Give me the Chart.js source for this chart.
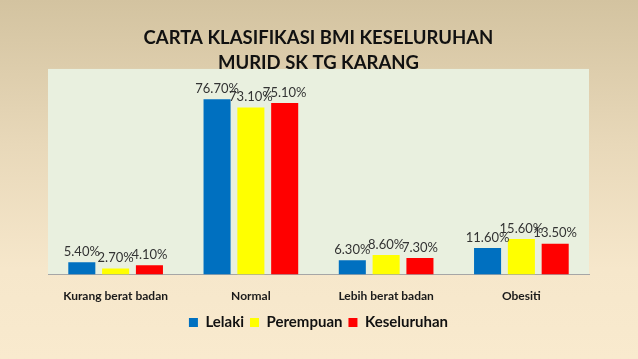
<!DOCTYPE html>
<html>
<head>
<meta charset="utf-8">
<script src="https://cdn.jsdelivr.net/npm/chart.js@4.4.0/dist/chart.umd.min.js"></script>
<style>
    html, body { margin: 0; padding: 0; }
    body {
        width: 638px; height: 359px; overflow: hidden;
        background: linear-gradient(to bottom, #d3c3a0 0%, #e8d8b9 40%, #f6e7cb 75%, #f9eace 100%);
    }
    #wrap { position: relative; width: 638px; height: 359px; }
</style>
</head>
<body>
<div id="wrap"><canvas id="bmiChart"></canvas></div>

<script>
var kategori = ["Kurang berat badan", "Normal", "Lebih berat badan", "Obesiti"];
var lelaki = [5.4, 76.7, 6.3, 11.6];
var perempuan = [2.7, 73.1, 8.6, 15.6];
var keseluruhan = [4.1, 75.1, 7.3, 13.5];

var fontUtama = "Lato, 'Open Sans', sans-serif";

// latar kawasan plot
var latarPlot = {
    id: 'latarPlot',
    beforeDraw: function(chart) {
        var a = chart.chartArea, ctx = chart.ctx;
        ctx.save();
        ctx.fillStyle = '#e9f0df';
        ctx.fillRect(a.left, a.top, a.right - a.left, a.bottom - a.top);
        ctx.restore();
    }
};

// label nilai atas bar
var labelNilai = {
    id: 'labelNilai',
    afterDatasetsDraw: function(chart) {
        var ctx = chart.ctx;
        ctx.save();
        ctx.font = "13px " + fontUtama;
        ctx.fillStyle = '#333333';
        ctx.textAlign = 'center';
        ctx.textBaseline = 'bottom';
        chart.data.datasets.forEach(function(ds, i) {
            chart.getDatasetMeta(i).data.forEach(function(bar, j) {
                ctx.fillText(ds.data[j].toFixed(2) + '%', bar.x, bar.y - 4);
            });
        });
        ctx.restore();
    }
};

new Chart(document.getElementById('bmiChart').getContext('2d'), {
    type: 'bar',
    data: {
        labels: kategori,
        datasets: [
            { label: 'Lelaki', data: lelaki, backgroundColor: '#0070c0' },
            { label: 'Perempuan', data: perempuan, backgroundColor: '#ffff00' },
            { label: 'Keseluruhan', data: keseluruhan, backgroundColor: '#ff0000' }
        ]
    },
    options: {
        responsive: true,
        maintainAspectRatio: false,
        animation: false,
        categoryPercentage: 0.75,
        barPercentage: 0.8,
        layout: { padding: { left: 48, right: 49, top: 0, bottom: 19 } },
        scales: {
            x: {
                grid: { display: false },
                border: { color: '#a6a6a6', width: 1 },
                ticks: { color: '#1a1a1a', padding: 6, font: { family: fontUtama, size: 12, weight: 'bold' } }
            },
            y: { display: false, min: 0, max: 90 }
        },
        plugins: {
            title: {
                display: true,
                text: ['CARTA KLASIFIKASI BMI KESELURUHAN', 'MURID SK TG KARANG'],
                color: '#111111',
                font: { family: fontUtama, size: 18.5, weight: 'bold', lineHeight: 1.35 },
                padding: { top: 26, bottom: -7 }
            },
            legend: {
                position: 'bottom',
                labels: {
                    color: '#111111',
                    boxWidth: 9, boxHeight: 9,
                    padding: 6,
                    font: { family: fontUtama, size: 15, weight: 'bold' }
                }
            },
            tooltip: { enabled: false }
        }
    },
    plugins: [latarPlot, labelNilai]
});
</script>
</body>
</html>
